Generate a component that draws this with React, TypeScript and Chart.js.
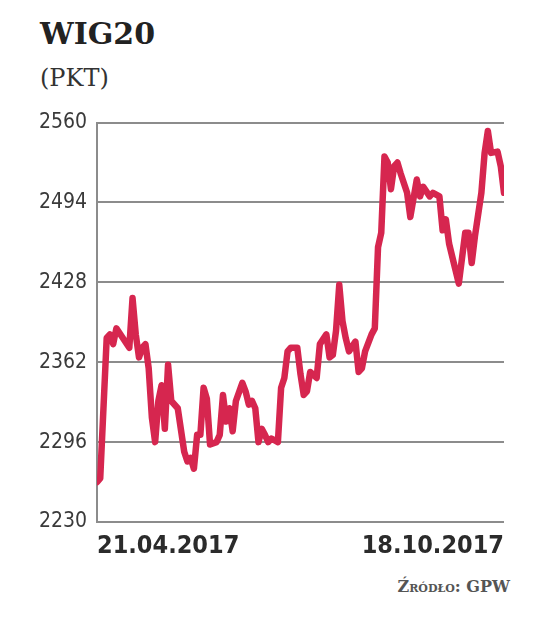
import React, { useEffect, useRef } from "react";
import { Chart, registerables } from "chart.js";

Chart.register(...registerables);

const title = "WIG20";
const unit = "(PKT)";
const source = "Źródło: GPW";
const dateLabels = ["21.04.2017", "18.10.2017"];
const yTicks = [2230, 2296, 2362, 2428, 2494, 2560];

const days = [
  0, 1, 3, 4, 5, 6, 8, 10, 11, 12, 13, 14, 15, 16, 17, 18, 19, 20, 21, 22,
  23, 25, 27, 28, 29, 30, 31, 32, 33, 34, 35, 37, 38, 39, 40, 41, 42, 43, 45, 46,
  47, 48, 49, 50, 51, 52, 53, 54, 56, 57, 58, 59, 60, 62, 63, 64, 65, 66, 68, 69,
  71, 72, 73, 74, 75, 76, 77, 78, 80, 81, 82, 83, 85, 86, 87, 88, 89, 90, 91, 92,
  93, 94, 96, 97, 99, 100, 101, 103, 104, 106, 107, 108, 109, 111, 112, 114, 115, 116, 117, 119,
  120, 121, 122, 124, 125, 126,
];

const values = [
  2263, 2266, 2382, 2385, 2377, 2390, 2382, 2374, 2415, 2385, 2366, 2374, 2377, 2357, 2316, 2296, 2330, 2343, 2307, 2360,
  2330, 2324, 2288, 2280, 2283, 2274, 2302, 2302, 2341, 2332, 2294, 2296, 2302, 2335, 2313, 2324, 2305, 2330, 2345, 2338,
  2327, 2330, 2324, 2296, 2307, 2302, 2296, 2299, 2296, 2341, 2349, 2371, 2374, 2374, 2352, 2335, 2338, 2354, 2349, 2377,
  2385, 2366, 2368, 2388, 2426, 2396, 2382, 2371, 2379, 2354, 2357, 2371, 2385, 2390, 2457, 2469, 2532, 2527, 2505, 2524,
  2527, 2518, 2502, 2482, 2513, 2499, 2507, 2499, 2502, 2499, 2471, 2480, 2460, 2438, 2427, 2469, 2469, 2444, 2466, 2502,
  2535, 2553, 2535, 2536, 2524, 2502,
];

const LINE_COLOR = "#d6264f";
const GRID_COLOR = "#8c8c8c";

function WigChart() {
  const canvasRef = useRef<HTMLCanvasElement | null>(null);

  useEffect(() => {
    const canvas = canvasRef.current;
    if (!canvas) return;
    const chart = new Chart(canvas, {
      type: "line",
      data: {
        datasets: [
          {
            data: days.map((d, i) => ({ x: d, y: values[i] })),
            borderColor: LINE_COLOR,
            borderWidth: 6.5,
            pointRadius: 0,
            tension: 0,
            borderJoinStyle: "round",
            borderCapStyle: "round",
            fill: false,
          },
        ],
      },
      options: {
        animation: false,
        responsive: false,
        maintainAspectRatio: false,
        layout: { padding: { top: 22, right: 32, left: 0, bottom: 0 } },
        plugins: { legend: { display: false }, tooltip: { enabled: false } },
        scales: {
          x: {
            type: "linear",
            min: days[0],
            max: days[days.length - 1],
            afterBuildTicks: (axis: any) => {
              axis.ticks = [{ value: days[0] }, { value: days[days.length - 1] }];
            },
            afterFit: (axis: any) => {
              axis.height = 48;
            },
            grid: { display: false, drawTicks: false },
            border: { display: false },
            ticks: {
              autoSkip: false,
              maxRotation: 0,
              align: "inner",
              padding: 9,
              color: "#2b2b2b",
              font: {
                family: "'DejaVu Sans Condensed', sans-serif",
                size: 25,
                weight: "bold",
                lineHeight: 1.2,
              },
              callback: (_v: any, i: number) => dateLabels[i],
            },
          },
          y: {
            type: "linear",
            min: yTicks[0],
            max: yTicks[yTicks.length - 1],
            afterBuildTicks: (axis: any) => {
              axis.ticks = yTicks.map((v) => ({ value: v }));
            },
            afterFit: (axis: any) => {
              axis.width = 97;
            },
            grid: { color: GRID_COLOR, lineWidth: 2, drawTicks: false, tickLength: 0 },
            border: { display: true, color: GRID_COLOR, width: 2 },
            ticks: {
              padding: 10,
              color: "#3a3a3a",
              font: { family: "'DejaVu Sans Condensed', sans-serif", size: 21 },
              callback: (v: any) => String(v),
            },
          },
        },
      },
    } as any);
    return () => chart.destroy();
  }, []);

  return (
    <canvas
      ref={canvasRef}
      width={536}
      height={470}
      style={{ position: "absolute", left: 0, top: 100, width: 536, height: 470 }}
    />
  );
}

export default function App() {
  useEffect(() => {
    document.body.style.margin = "0";
  }, []);
  return (
    <div style={{ position: "relative", width: 536, height: 634, background: "#fff", overflow: "hidden" }}>
      <div
        style={{
          position: "absolute",
          left: 40,
          top: 19,
          fontFamily: "'DejaVu Serif', serif",
          fontWeight: "bold",
          fontSize: 30,
          lineHeight: 1,
          color: "#222",
        }}
      >
        {title}
      </div>
      <div
        style={{
          position: "absolute",
          left: 40,
          top: 66,
          fontFamily: "'DejaVu Serif', serif",
          fontSize: 24,
          lineHeight: 1,
          color: "#333",
        }}
      >
        {unit}
      </div>
      <WigChart />
      <div
        style={{
          position: "absolute",
          right: 26,
          top: 579,
          fontFamily: "'DejaVu Serif', serif",
          fontWeight: "bold",
          fontSize: 16,
          fontVariant: "small-caps",
          lineHeight: 1,
          color: "#555",
        }}
      >
        {source}
      </div>
    </div>
  );
}
